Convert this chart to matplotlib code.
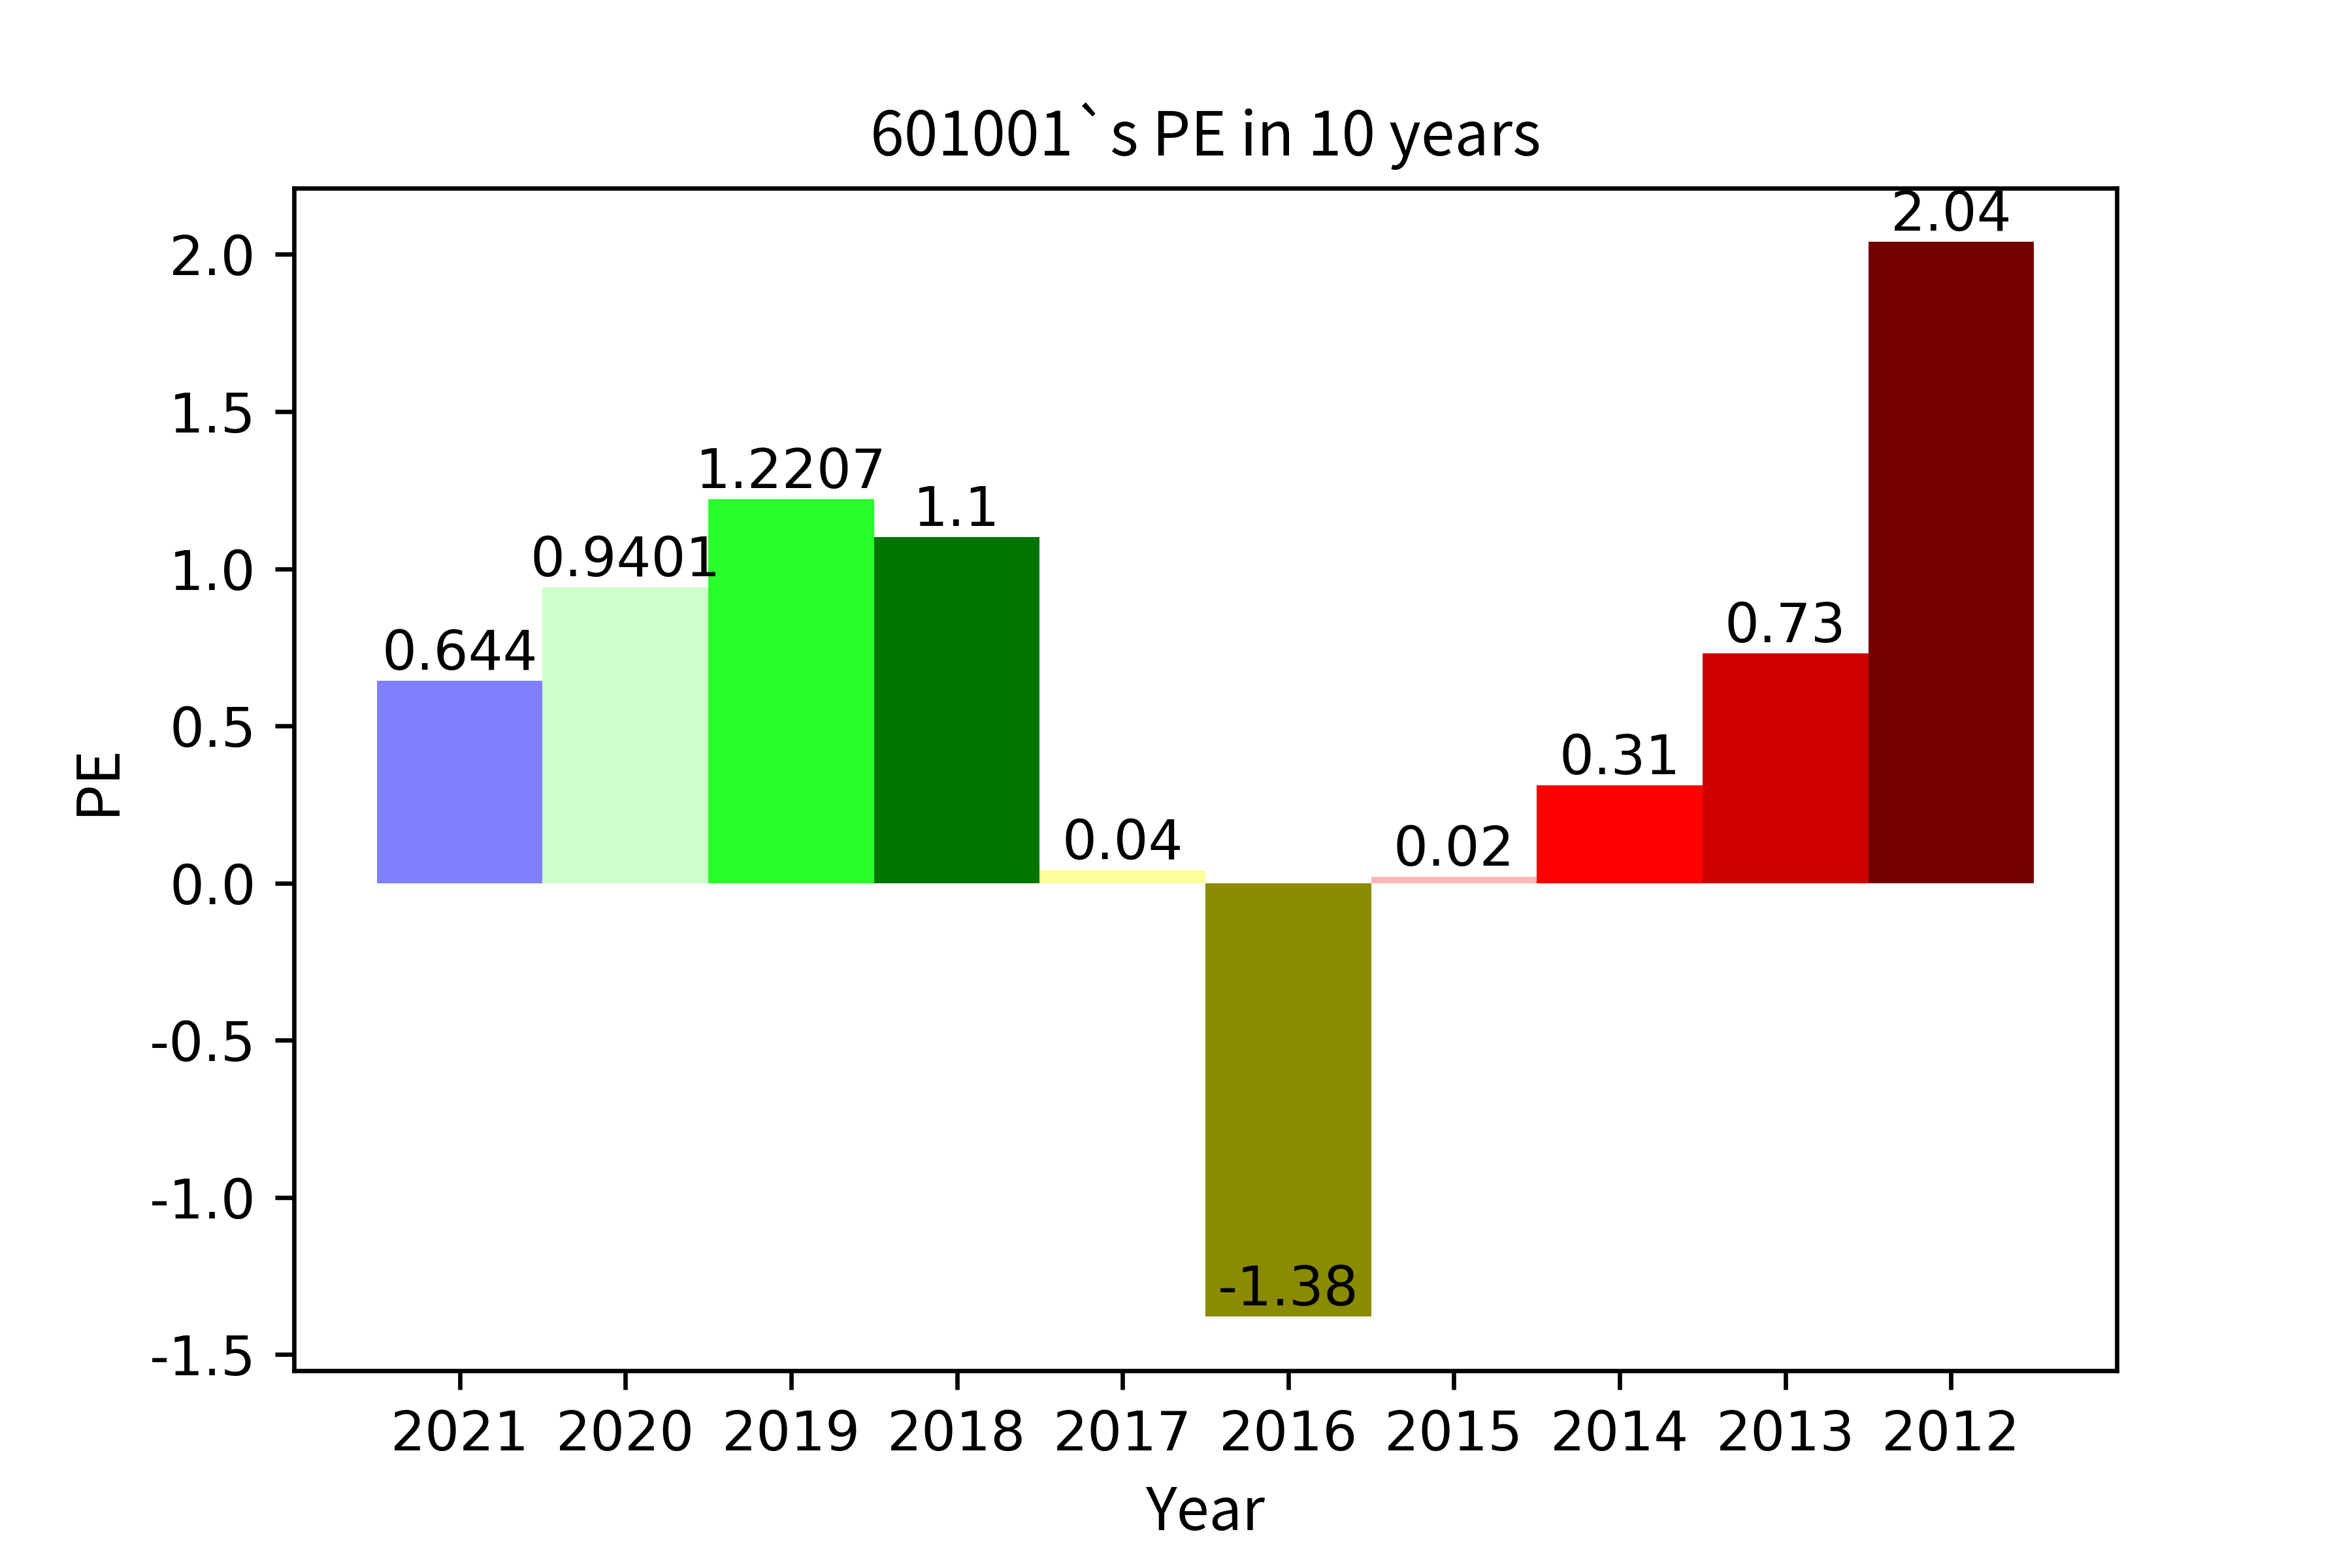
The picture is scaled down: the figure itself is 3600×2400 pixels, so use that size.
import matplotlib
matplotlib.use("Agg")
import matplotlib.pyplot as plt
import numpy as np

years = ["2021", "2020", "2019", "2018", "2017", "2016", "2015", "2014", "2013", "2012"]
pe = [0.644, 0.9401, 1.2207, 1.1, 0.04, -1.38, 0.02, 0.31, 0.73, 2.04]
colors = ["#8080ff", "#ccffcc", "#2aff2a", "#007500", "#ffff99",
          "#8b8b00", "#ffb6b6", "#ff0000", "#cf0000", "#750000"]

plt.rcParams['axes.unicode_minus'] = False
jp = ["Noto Sans CJK JP", "DejaVu Sans"]

fig, ax = plt.subplots(figsize=(6, 4), dpi=600)
fig.subplots_adjust(left=0.125, right=0.9, top=0.88, bottom=0.126)
x = np.arange(len(years))
bars = ax.bar(x, pe, width=1.0, color=colors)

for xi, v in zip(x, pe):
    ax.text(xi, v, str(v), ha="center", va="bottom", fontsize=10)

ax.set_xticks(x)
ax.set_xticklabels(years)
ax.set_title("601001`s PE in 10 years", family=jp, fontsize=11.2)
ax.set_xlabel("Year", family=jp, fontsize=10.8)
ax.set_ylabel("PE", family=jp, fontsize=10.8)

fig.savefig("out.png", dpi=600)
